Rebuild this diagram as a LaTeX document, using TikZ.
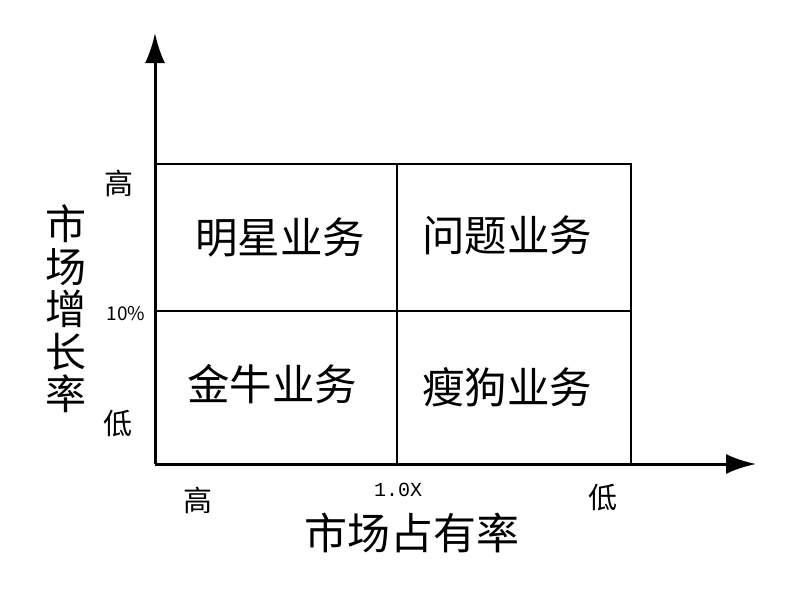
\documentclass[tikz,border=0pt]{standalone}
\usepackage{fontspec}
\newfontfamily\cjk{Noto Sans CJK SC}
\setmonofont{Liberation Mono}
\usetikzlibrary{arrows.meta,positioning}

\begin{document}
\begin{tikzpicture}[x=1pt,y=-1pt,
		axis/.style={line width=3pt, -{Latex[length=30pt,width=20pt]}},
		gridline/.style={line width=1.8pt},
		cell/.style={font=\cjk\fontsize{42.5}{44}\selectfont, inner sep=0pt},
		tick/.style={font=\cjk\fontsize{29}{30}\selectfont, inner sep=0pt},
		title/.style={font=\cjk\fontsize{41}{42.4}\selectfont, inner sep=0pt, align=center}]
		\useasboundingbox (0,0) rectangle (800,600);
		\coordinate (O) at (155,464);
		\coordinate (ytip) at (155,33);
		\coordinate (xtip) at (756,464);
		\coordinate (tl) at (155,164);
		\coordinate (tm) at (397,164);
		\coordinate (tr) at (631,164);
		\coordinate (ml) at (155,311);
		\coordinate (mr) at (631,311);
		\coordinate (bm) at (397,464);
		\coordinate (br) at (631,464);

		\draw[gridline] (tl) -- (tr) -- (br);
		\draw[gridline] (ml) -- (mr);
		\draw[gridline] (tm) -- (bm);
		\draw[axis] (O) -- (ytip);
		\draw[axis] (O) -- (xtip);

		\node[cell] (star) at (280,237) {明星业务};
		\node[cell] (question) at (507,235) {问题业务};
		\node[cell] (cow) at (272,384) {金牛业务};
		\node[cell] (dog) at (507,387) {瘦狗业务};

		\node[tick] (yhigh) at (119,183) {高};
		\node[font=\cjk\fontsize{19}{20}\selectfont, inner sep=0pt] (ymid) at (126,314) {10\%};
		\node[tick] (ylow) at (118,424) {低};
		\node[title] (ytitle) at (66,309) {市\\场\\增\\长\\率};

		\node[tick] (xhigh) at (198,500) {高};
		\node[font=\ttfamily\fontsize{20}{21}\selectfont, inner sep=0pt] (xmid) at (398,490) {1.0X};
		\node[tick] (xlow) at (603,498) {低};
		\node[title, font=\cjk\fontsize{43}{44}\selectfont] (xtitle) at (412,533) {市场占有率};
	\end{tikzpicture}
\end{document}
